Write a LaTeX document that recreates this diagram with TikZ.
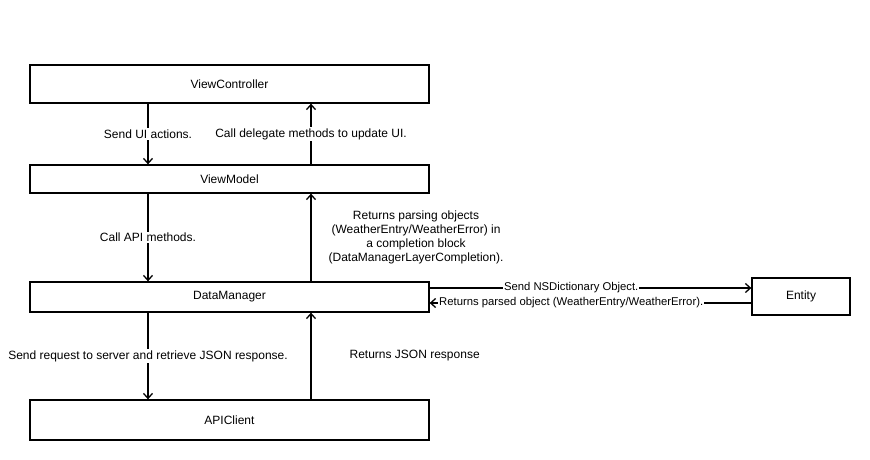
\documentclass[tikz,border=0pt]{standalone}
\usepackage{fontspec}
\setmainfont{Liberation Sans}
\usetikzlibrary{arrows.meta}
\begin{document}
\begin{tikzpicture}[x=1pt,y=-1pt,
  box/.style={draw,line width=1.3pt,minimum width=399pt,inner sep=0pt},
  arr/.style={line width=1.3pt,-{Straight Barb[length=5pt,width=9pt,line width=1.3pt]}},
  lbl/.style={fill=white,inner sep=1.5pt,font=\fontsize{12}{14}\selectfont},
  small/.style={fill=white,inner xsep=1pt,inner ysep=0pt,font=\fontsize{11.3}{13}\selectfont},
  side/.style={inner sep=0pt,font=\fontsize{12}{14}\selectfont,align=center,anchor=west}]
  \useasboundingbox (0,0) rectangle (870,460);
  \tikzset{every node/.append style={font=\fontsize{12}{14}\selectfont}}
  \node[box,minimum height=38pt] (vc) at (229.5,84) {ViewController};
  \node[box,minimum height=28pt] (vm) at (229.5,179) {ViewModel};
  \node[box,minimum height=30pt] (dm) at (229.5,297) {DataManager};
  \node[box,minimum height=40pt] (api) at (229.5,420) {APIClient};
  \node[box,minimum width=98pt,minimum height=37pt] (entity) at (801,296.5) {Entity};
  \coordinate (l) at (148,0);
  \coordinate (r) at (311,0);
  \coordinate (s) at (0,288);
  \coordinate (t) at (0,303);
  \draw[arr] (l |- vc.south) -- node[lbl] {Send UI actions.} (l |- vm.north);
  \draw[arr] (r |- vm.north) -- node[lbl] {Call delegate methods to update UI.} (r |- vc.south);
  \draw[arr] (l |- vm.south) -- node[lbl] {Call API methods.} (l |- dm.north);
  \draw[arr] (r |- dm.north) -- node[side,xshift=17pt] {Returns parsing objects\\(WeatherEntry/WeatherError) in\\a completion block\\(DataManagerLayerCompletion).} (r |- vm.south);
  \draw[arr] (l |- dm.south) -- node[lbl] {Send request to server and retrieve JSON response.} (l |- api.north);
  \draw[arr] (r |- api.north) -- node[side,xshift=38pt] {Returns JSON response} (r |- dm.south);
  \draw[arr] (dm.east |- s) -- node[small,pos=.44] {Send NSDictionary Object.} (entity.west |- s);
  \draw[arr] (entity.west |- t) -- node[small,pos=.56] {Returns parsed object (WeatherEntry/WeatherError).} (dm.east |- t);
\end{tikzpicture}
\end{document}
